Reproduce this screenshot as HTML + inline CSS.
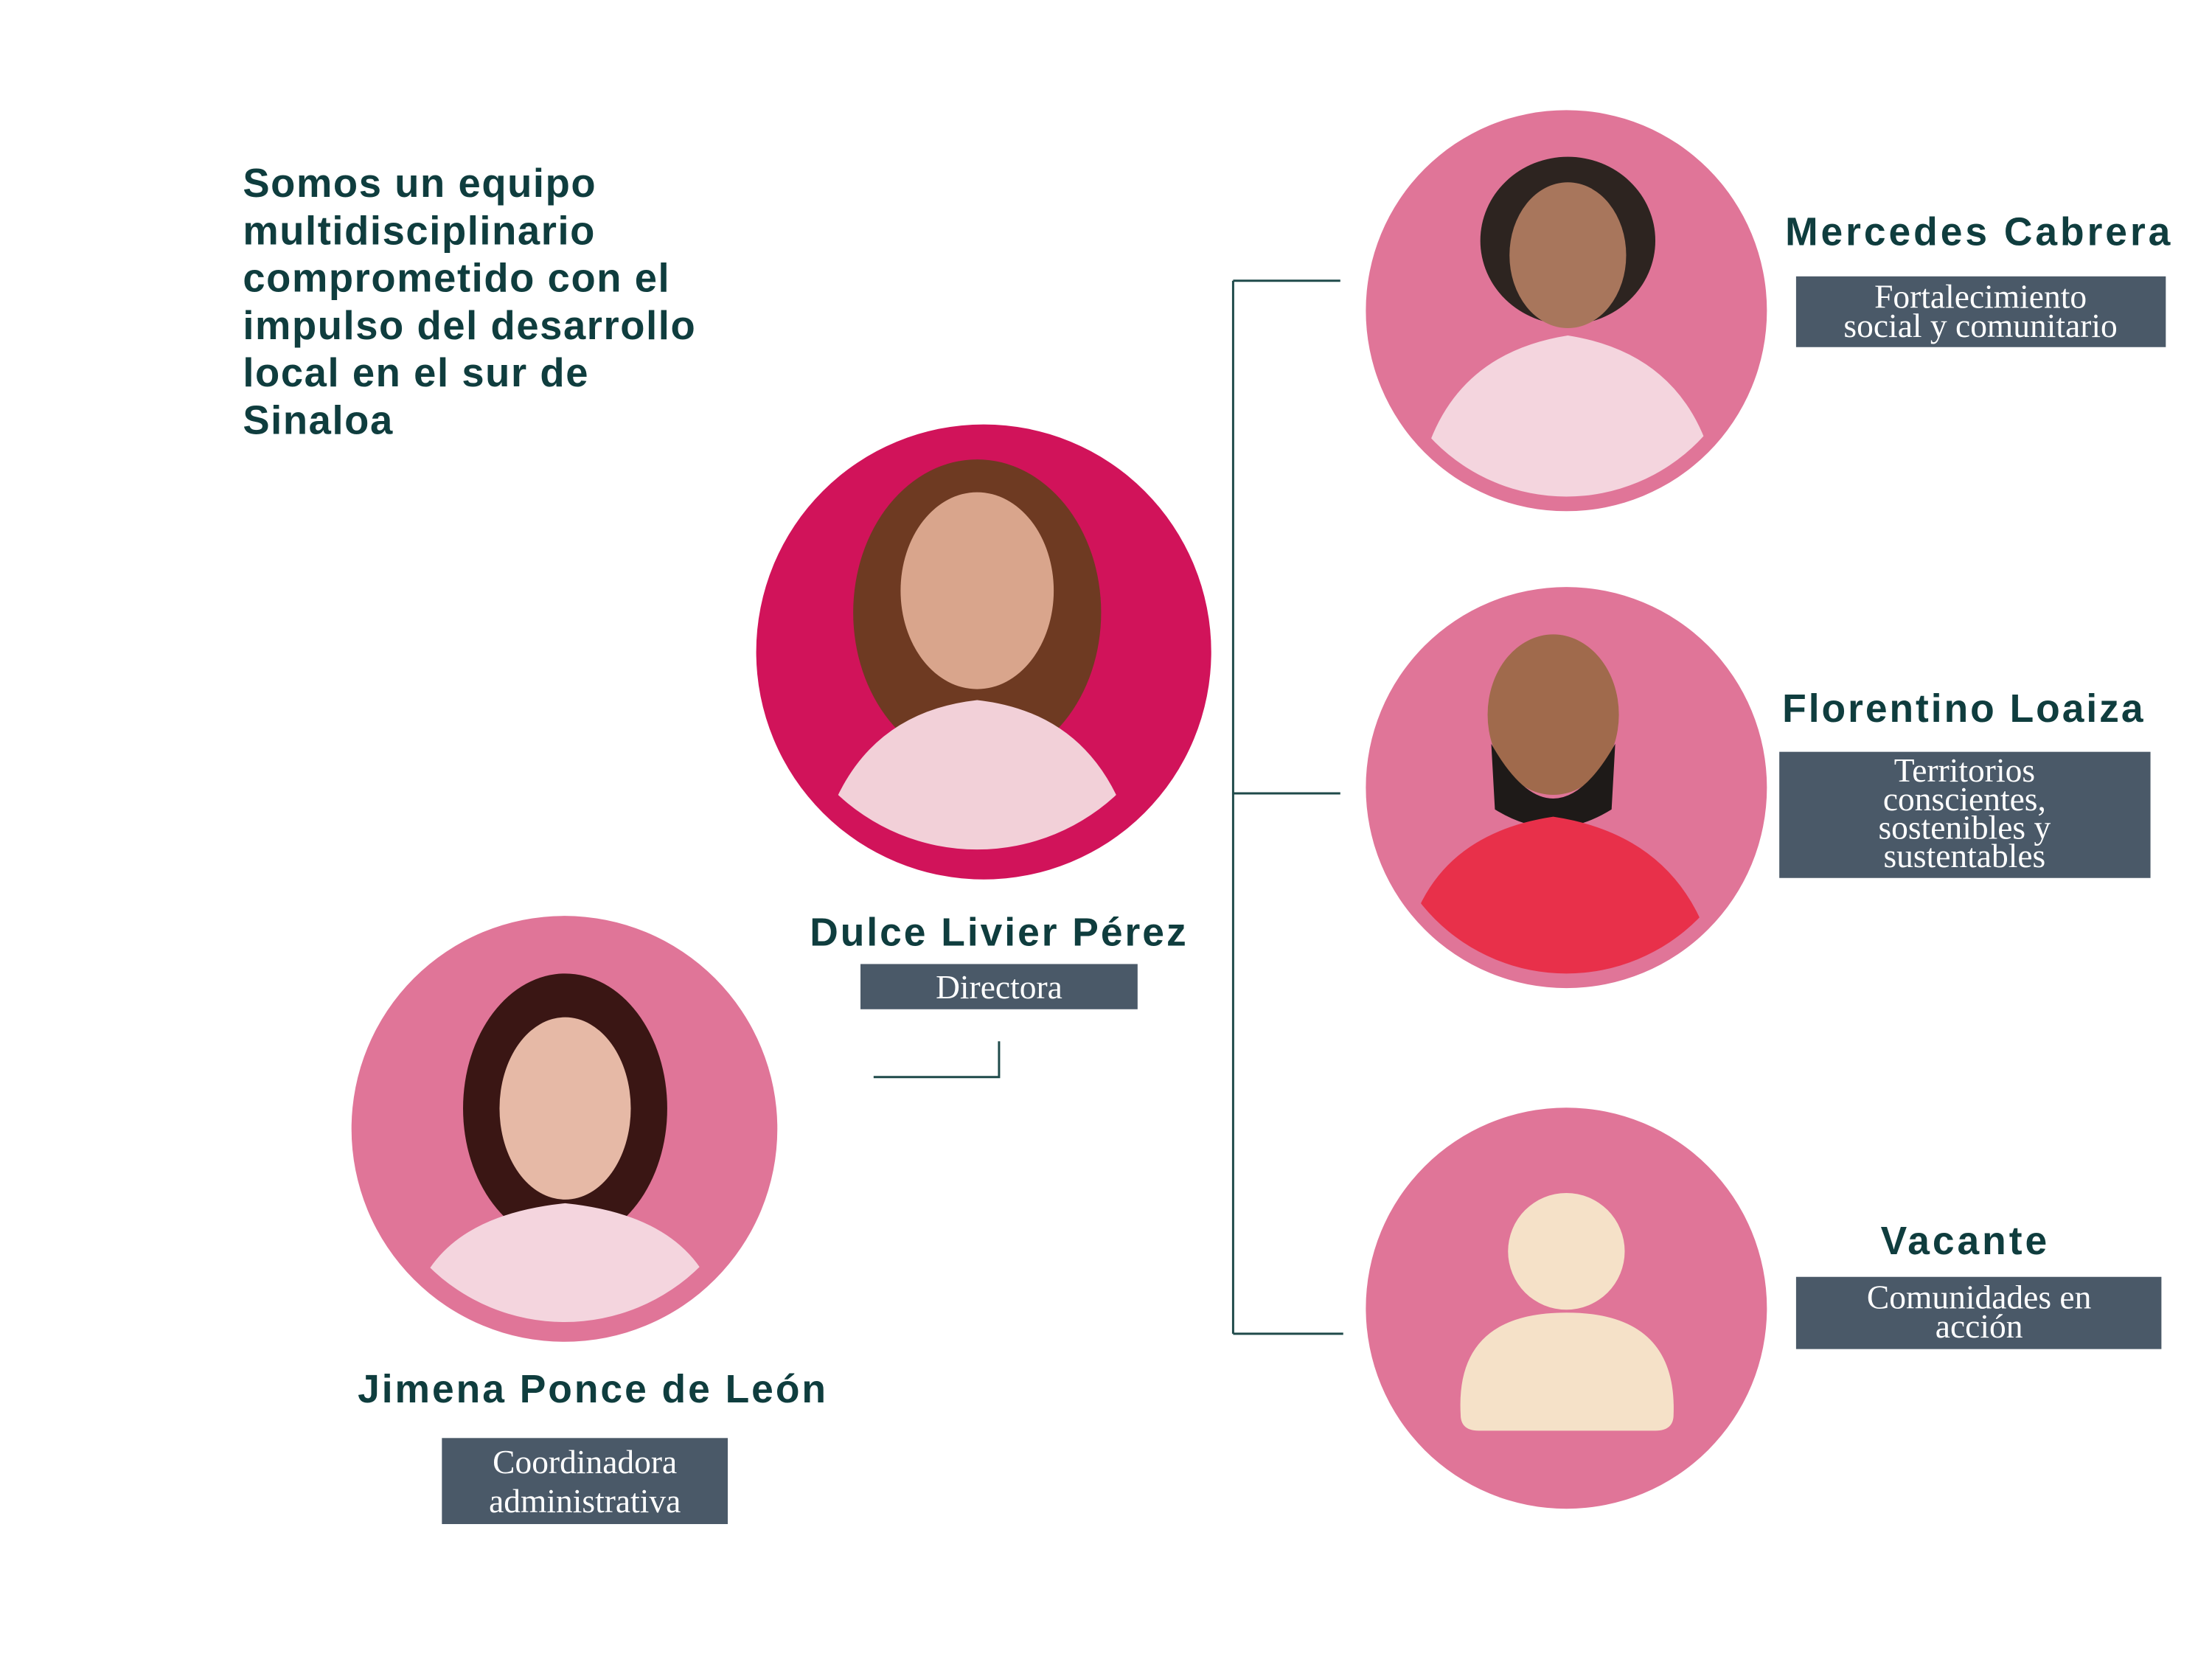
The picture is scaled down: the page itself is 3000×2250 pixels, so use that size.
<!DOCTYPE html>
<html><head><meta charset="utf-8"><style>
html,body{margin:0;padding:0;background:#fff;}
svg{display:block}
.t{font-family:"Liberation Sans",sans-serif;font-weight:bold;fill:#0f3d3e;}
.lb{font-family:"Liberation Serif",serif;fill:#fff;}
</style></head><body>
<svg width="3000" height="2250" viewBox="0 0 3000 2250" xmlns="http://www.w3.org/2000/svg">
<rect width="3000" height="2250" fill="#fff"/>
<g transform="scale(0.989)">
<g class="t" font-size="55" letter-spacing="1.6">
<text x="333" y="270">Somos un equipo</text>
<text x="333" y="335">multidisciplinario</text>
<text x="333" y="400">comprometido con el</text>
<text x="333" y="465">impulso del desarrollo</text>
<text x="333" y="530">local en el sur de</text>
<text x="333" y="595">Sinaloa</text>
</g>
<g stroke="#1f4a4a" stroke-width="3" fill="none">
<path d="M1691 385 V1829"/>
<path d="M1691 385 H1838"/>
<path d="M1691 1088 H1838"/>
<path d="M1691 1829 H1842"/>
<path d="M1370 1428 V1477 H1198"/>
</g>
<circle cx="1349" cy="894" r="312" fill="#d1135a"/>
<clipPath id="c1"><circle cx="1340" cy="885" r="280"/></clipPath>
<g clip-path="url(#c1)">
<ellipse cx="1340" cy="840" rx="170" ry="210" fill="#6e3a22"/>
<ellipse cx="1340" cy="810" rx="105" ry="135" fill="#d9a58c"/>
<path d="M1120 1180 Q1160 980 1340 960 Q1520 980 1560 1180 Z" fill="#f2d0d8"/>
</g>
<text class="t" x="1370" y="1297" font-size="54" text-anchor="middle" letter-spacing="3">Dulce Livier Pérez</text>
<rect x="1180" y="1322" width="380" height="62" fill="#4a5968"/>
<text class="lb" x="1370" y="1369" font-size="46" text-anchor="middle">Directora</text>
<circle cx="2148" cy="426" r="275" fill="#e07598"/>
<clipPath id="c2"><circle cx="2148" cy="426" r="255"/></clipPath>
<g clip-path="url(#c2)">
<ellipse cx="2150" cy="330" rx="120" ry="115" fill="#2d2420"/>
<ellipse cx="2150" cy="350" rx="80" ry="100" fill="#a8765c"/>
<path d="M1940 700 Q1960 490 2150 460 Q2340 490 2360 700 Z" fill="#f4d5de"/>
</g>
<text class="t" x="2448" y="336" font-size="54" letter-spacing="4">Mercedes Cabrera</text>
<rect x="2463" y="379" width="507" height="97" fill="#4a5968"/>
<text class="lb" x="2716" y="422" font-size="46" text-anchor="middle">Fortalecimiento</text>
<text class="lb" x="2716" y="462" font-size="46" text-anchor="middle">social y comunitario</text>
<circle cx="2148" cy="1080" r="275" fill="#e07598"/>
<clipPath id="c3"><circle cx="2148" cy="1080" r="255"/></clipPath>
<g clip-path="url(#c3)">
<ellipse cx="2130" cy="980" rx="90" ry="110" fill="#a06a4c"/>
<path d="M2045 1020 Q2130 1170 2215 1020 L2210 1110 Q2130 1160 2050 1110 Z" fill="#1e1a18"/>
<path d="M1920 1360 Q1930 1150 2130 1120 Q2330 1150 2360 1360 Z" fill="#e8304a"/>
</g>
<text class="t" x="2444" y="990" font-size="54" letter-spacing="3">Florentino Loaiza</text>
<rect x="2440" y="1031" width="509" height="173" fill="#4a5968"/>
<g class="lb" font-size="46" text-anchor="middle">
<text x="2694" y="1072">Territorios</text>
<text x="2694" y="1111">conscientes,</text>
<text x="2694" y="1150">sostenibles y</text>
<text x="2694" y="1189">sustentables</text>
</g>
<circle cx="2148" cy="1794" r="275" fill="#e07598"/>
<circle cx="2148" cy="1716" r="80" fill="#f5e1c8"/>
<path d="M2003 1940 Q1995 1800 2148 1800 Q2300 1800 2295 1940 Q2295 1962 2270 1962 H2028 Q2003 1962 2003 1940 Z" fill="#f5e1c8"/>
<text class="t" x="2695" y="1720" font-size="54" text-anchor="middle" letter-spacing="4">Vacante</text>
<rect x="2463" y="1751" width="501" height="99" fill="#4a5968"/>
<text class="lb" x="2714" y="1794" font-size="46" text-anchor="middle">Comunidades en</text>
<text class="lb" x="2714" y="1834" font-size="46" text-anchor="middle">acción</text>
<circle cx="774" cy="1548" r="292" fill="#e07598"/>
<clipPath id="c4"><circle cx="774" cy="1548" r="265"/></clipPath>
<g clip-path="url(#c4)">
<ellipse cx="775" cy="1520" rx="140" ry="185" fill="#3a1614"/>
<ellipse cx="775" cy="1520" rx="90" ry="125" fill="#e6b9a6"/>
<path d="M560 1820 Q580 1670 775 1650 Q970 1670 990 1820 Z" fill="#f4d5de"/>
</g>
<text class="t" x="813" y="1923" font-size="54" text-anchor="middle" letter-spacing="3">Jimena Ponce de León</text>
<rect x="606" y="1972" width="392" height="118" fill="#4a5968"/>
<text class="lb" x="802" y="2020" font-size="46" text-anchor="middle">Coordinadora</text>
<text class="lb" x="802" y="2074" font-size="46" text-anchor="middle">administrativa</text>
</g>
</svg>
</body></html>
